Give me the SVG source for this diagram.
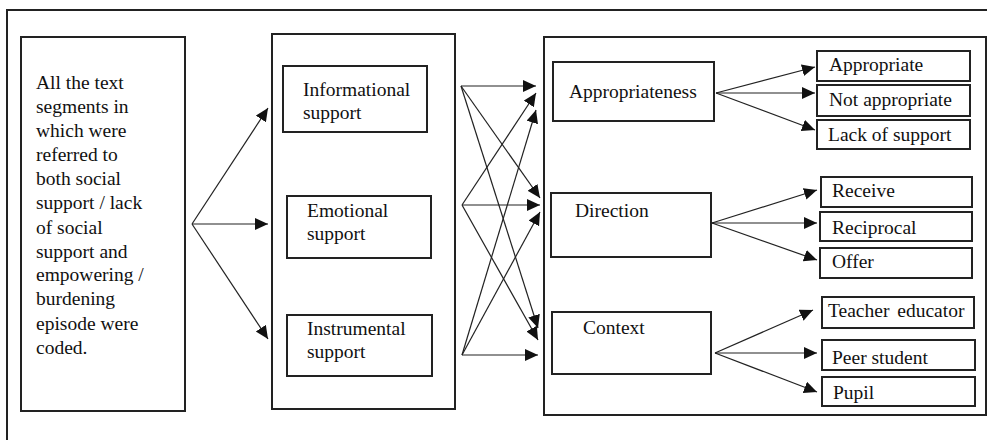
<svg xmlns="http://www.w3.org/2000/svg" width="987" height="440" viewBox="0 0 987 440">
<defs>
<marker id="ah" markerUnits="userSpaceOnUse" markerWidth="16" markerHeight="14" refX="13" refY="6" orient="auto" viewBox="0 0 16 14">
<path d="M0,0 L13,6 L0,12 Z" fill="#111"/>
</marker>
<style>
.box{fill:#fff;stroke:#222;stroke-width:2}
.t{font-family:'Liberation Serif','Times New Roman',Times,serif;font-size:19.5px;fill:#111}
.c{stroke:#222;stroke-width:1.2;fill:none}
</style>
</defs>
<rect x="0" y="0" width="987" height="440" fill="#fff"/>
<rect x="7" y="10" width="990" height="440" fill="none" stroke="#222" stroke-width="2"/>

<g id="source">
<rect class="box" x="21" y="37" width="164" height="374"/>
<text class="t">
<tspan x="36" y="89">All the text</tspan>
<tspan x="36" y="113">segments in</tspan>
<tspan x="36" y="137">which were</tspan>
<tspan x="36" y="161">referred to</tspan>
<tspan x="36" y="185">both social</tspan>
<tspan x="36" y="209">support / lack</tspan>
<tspan x="36" y="233.5">of social</tspan>
<tspan x="36" y="257.5">support and</tspan>
<tspan x="36" y="281">empowering /</tspan>
<tspan x="36" y="305">burdening</tspan>
<tspan x="36" y="329.5">episode were</tspan>
<tspan x="36" y="353.5">coded.</tspan>
</text>
</g>

<g id="support-types">
<rect class="box" x="272" y="34" width="183" height="375"/>
<g id="informational">
<rect class="box" x="283" y="66" width="144" height="66"/>
<text class="t"><tspan x="303" y="96">Informational</tspan><tspan x="303" y="119">support</tspan></text>
</g>
<g id="emotional">
<rect class="box" x="287" y="196" width="144" height="62"/>
<text class="t"><tspan x="307" y="217">Emotional</tspan><tspan x="307" y="240">support</tspan></text>
</g>
<g id="instrumental">
<rect class="box" x="287" y="315" width="145" height="61"/>
<text class="t"><tspan x="307" y="335">Instrumental</tspan><tspan x="307" y="358">support</tspan></text>
</g>
</g>

<g id="dimensions">
<rect class="box" x="544" y="37" width="442" height="378"/>
<g id="appropriateness">
<rect class="box" x="553" y="62" width="161" height="59"/>
<text class="t" x="569" y="98">Appropriateness</text>
</g>
<g id="direction">
<rect class="box" x="551" y="193" width="160" height="64"/>
<text class="t" x="575" y="216.5">Direction</text>
</g>
<g id="context">
<rect class="box" x="552" y="312" width="159" height="62"/>
<text class="t" x="583" y="333.5">Context</text>
</g>
<g id="appropriate">
<rect class="box" x="817" y="51" width="153" height="30"/>
<text class="t" x="829" y="71">Appropriate</text>
</g>
<g id="not-appropriate">
<rect class="box" x="817" y="85" width="153" height="31"/>
<text class="t" x="829" y="106">Not appropriate</text>
</g>
<g id="lack-of-support">
<rect class="box" x="817" y="120" width="153" height="29"/>
<text class="t" x="828" y="140.5">Lack of support</text>
</g>
<g id="receive">
<rect class="box" x="821" y="177" width="151" height="30"/>
<text class="t" x="832" y="197">Receive</text>
</g>
<g id="reciprocal">
<rect class="box" x="820" y="212" width="152" height="29"/>
<text class="t" x="832" y="234">Reciprocal</text>
</g>
<g id="offer">
<rect class="box" x="820" y="248" width="152" height="30"/>
<text class="t" x="832" y="268">Offer</text>
</g>
<g id="teacher-educator">
<rect class="box" x="822" y="297" width="152" height="31"/>
<text class="t" x="828" y="317" word-spacing="3">Teacher educator</text>
</g>
<g id="peer-student">
<rect class="box" x="822" y="340" width="153" height="30"/>
<text class="t" x="832" y="364">Peer student</text>
</g>
<g id="pupil">
<rect class="box" x="822" y="377" width="153" height="29"/>
<text class="t" x="833" y="399">Pupil</text>
</g>
</g>

<g id="connectors" class="c" marker-end="url(#ah)">
<line x1="192" y1="224" x2="268" y2="108"/>
<line x1="192" y1="224" x2="268" y2="224"/>
<line x1="192" y1="224" x2="268" y2="339"/>

<line x1="461" y1="86" x2="536" y2="86"/>
<line x1="461" y1="86" x2="540" y2="198"/>
<line x1="461" y1="86" x2="538" y2="328"/>
<line x1="462" y1="205" x2="536" y2="93"/>
<line x1="462" y1="205" x2="540" y2="205"/>
<line x1="462" y1="205" x2="538" y2="340"/>
<line x1="462" y1="355" x2="536" y2="110"/>
<line x1="462" y1="355" x2="540" y2="212"/>
<line x1="462" y1="355" x2="538" y2="355"/>

<line x1="716" y1="93" x2="815" y2="67"/>
<line x1="716" y1="93" x2="815" y2="93"/>
<line x1="716" y1="93" x2="815" y2="130"/>
<line x1="712" y1="223" x2="817" y2="190"/>
<line x1="712" y1="223" x2="817" y2="223"/>
<line x1="712" y1="223" x2="817" y2="260"/>
<line x1="715" y1="353" x2="813" y2="310"/>
<line x1="715" y1="353" x2="817" y2="353"/>
<line x1="715" y1="353" x2="817" y2="392"/>
</g>
</svg>
